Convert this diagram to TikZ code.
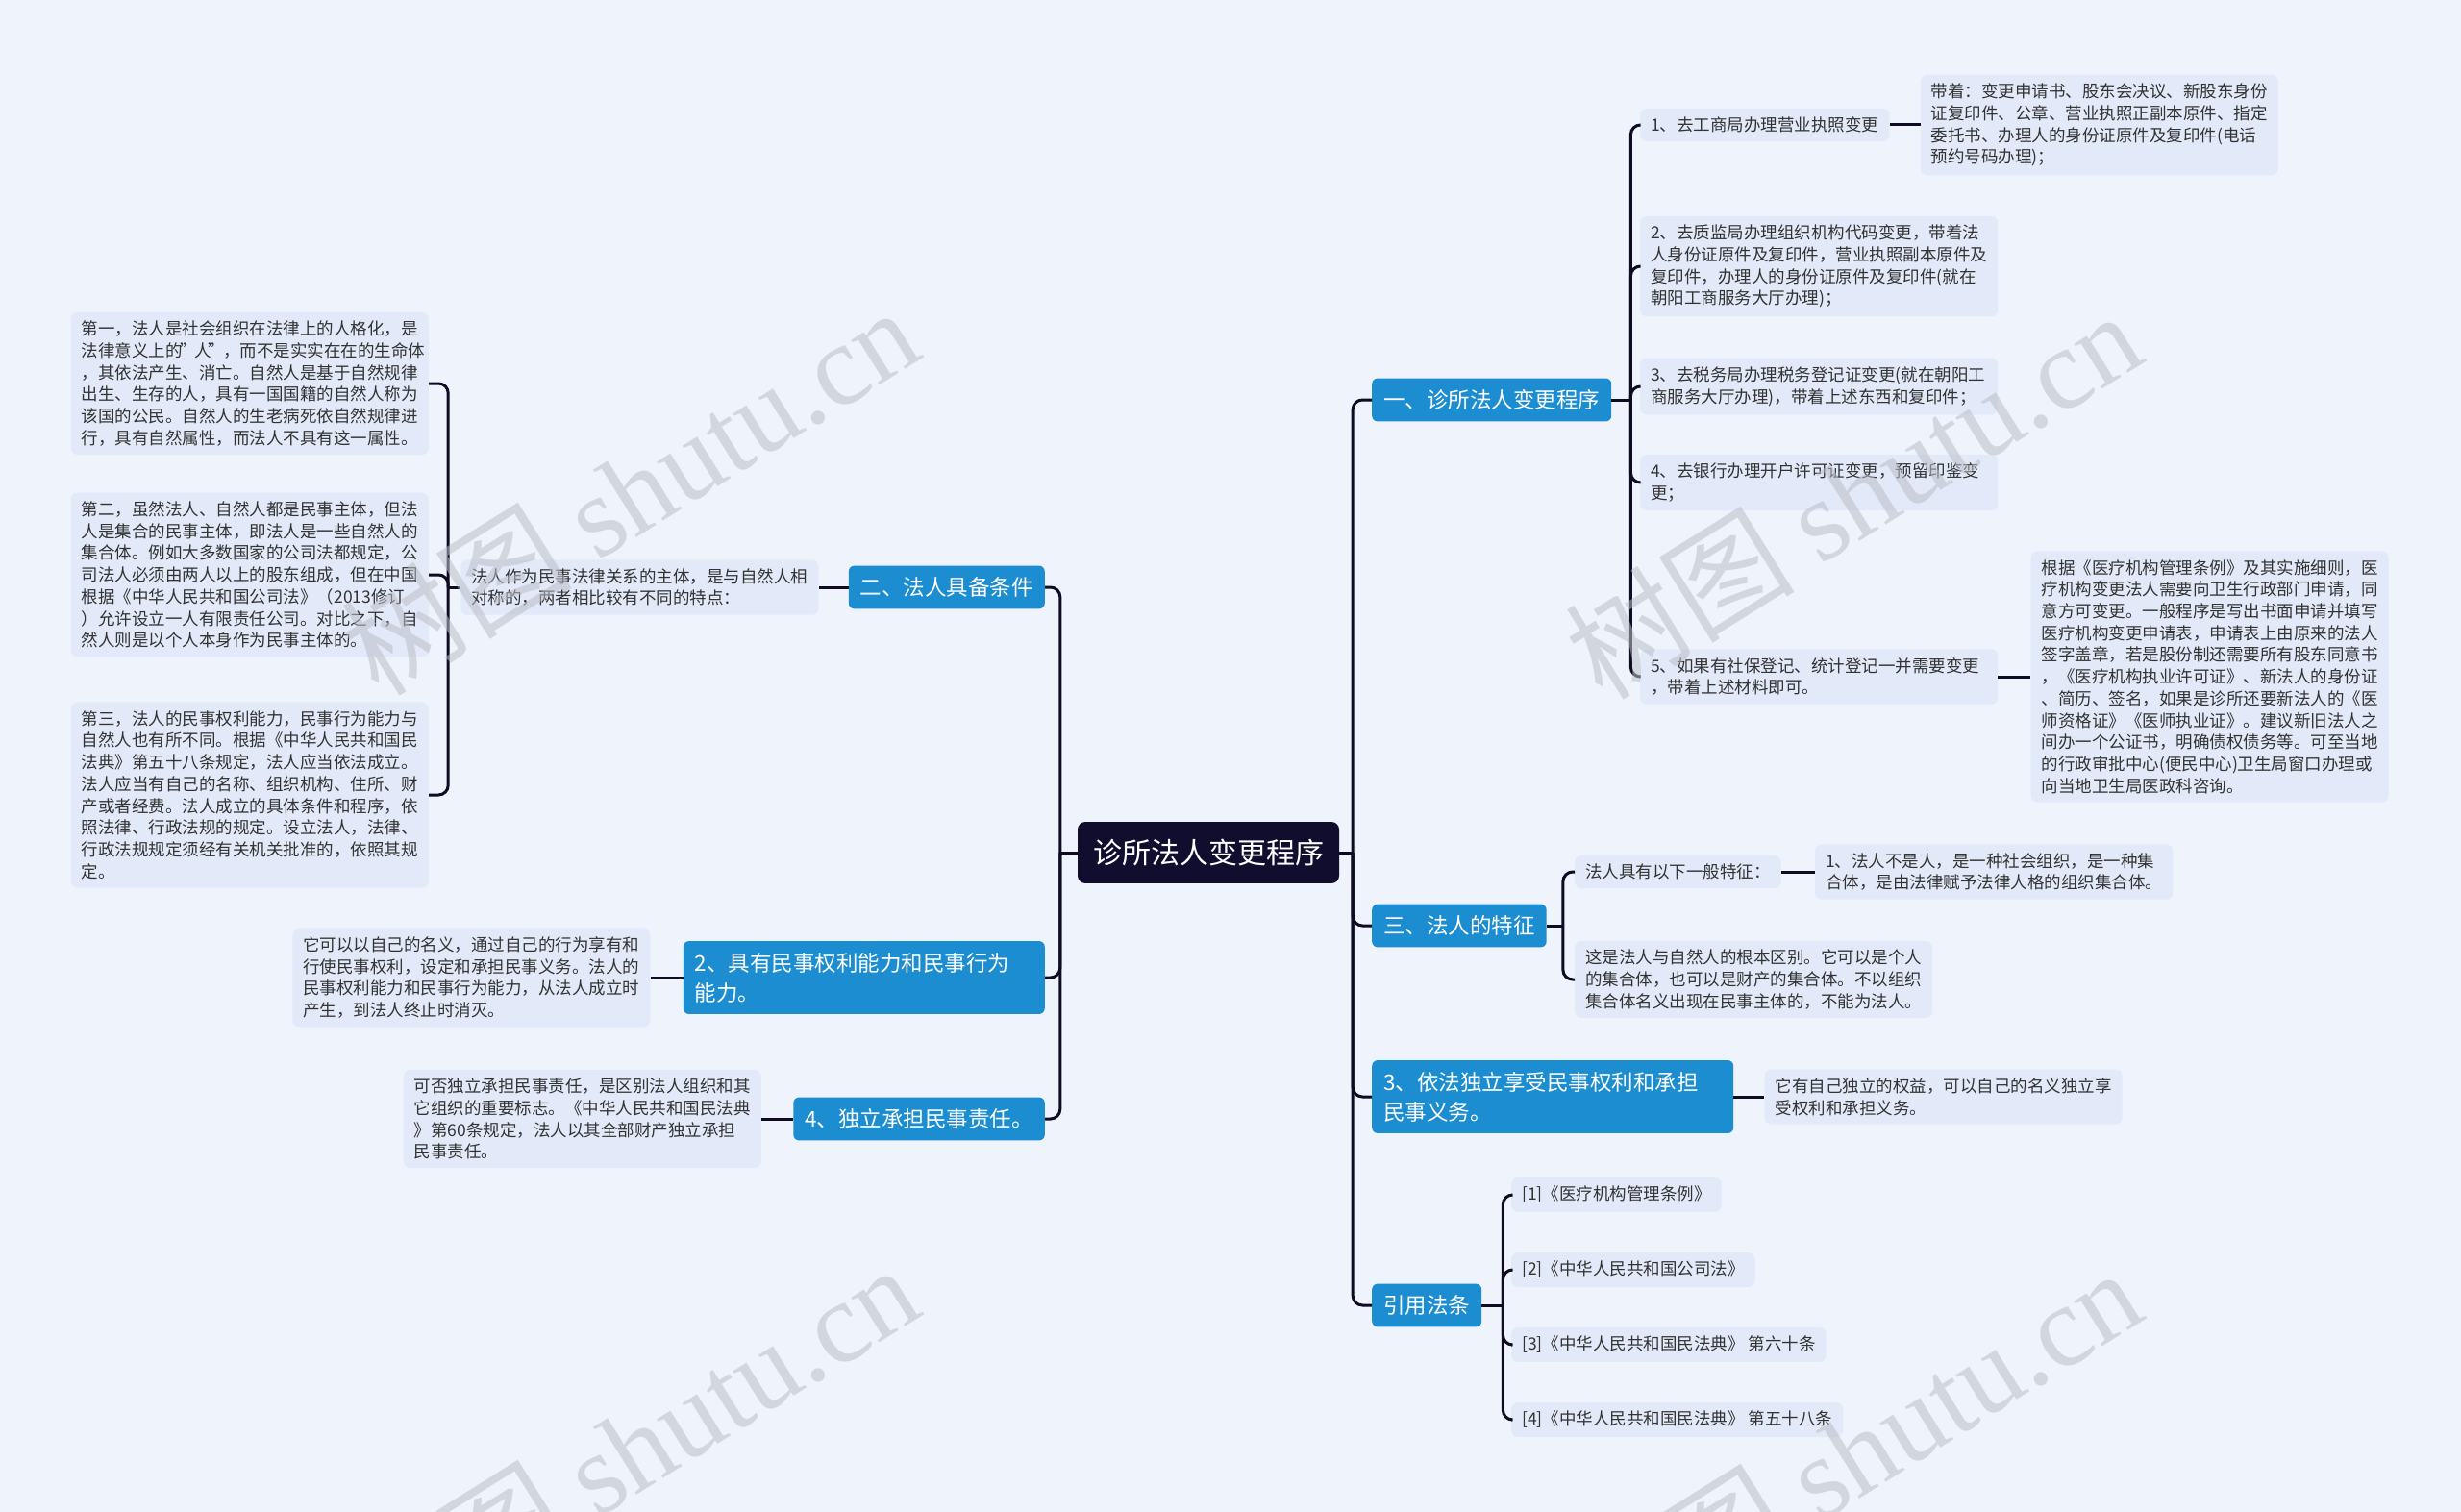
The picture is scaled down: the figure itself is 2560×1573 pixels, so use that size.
\documentclass[tikz,border=0pt]{standalone}
\usepackage{fontspec}
\setmainfont{Noto Sans CJK SC}
\newfontfamily\wmserif{Liberation Serif}
\usepackage{xcolor}
\usepackage{tikz}
\usetikzlibrary{positioning}

\definecolor{pagebg}{HTML}{EEF3FC}
\definecolor{notefill}{HTML}{E2E9F8}
\definecolor{notetext}{HTML}{333333}
\definecolor{branchblue}{HTML}{1C8DD0}
\definecolor{rootnavy}{HTML}{110D2F}
\definecolor{linkdark}{HTML}{0E0B22}
\definecolor{wmgray}{HTML}{BCBFC8}

\begin{document}
\begin{tikzpicture}[
    x=1pt, y=-1pt,
    rootbox/.style={fill=rootnavy, text=white, rounded corners=8pt,
                    inner xsep=16pt, inner ysep=18pt,
                    font=\fontsize{30}{36}\selectfont},
    branch/.style={fill=branchblue, text=white, rounded corners=6pt,
                   inner xsep=12pt, inner ysep=12pt, align=left,
                   font=\fontsize{22.5}{31}\selectfont},
    tag/.style={fill=notefill, text=notetext, rounded corners=7pt,
                inner xsep=11pt, inner ysep=9pt, align=left,
                font=\fontsize{17.5}{22.7}\selectfont},
    note/.style={tag, text width=350pt},
    link/.style={linkdark, line width=3pt, rounded corners=10pt},
    watermark/.style={text=wmgray, opacity=0.55, rotate=32,
                      font=\fontsize{120}{125}\selectfont},
  ]

  \useasboundingbox (0,0) rectangle (2560,1573);
  \fill[pagebg] (0,0) rectangle (2560,1573);

  \node[rootbox] (root) at (1257,887) {诊所法人变更程序};

  % right side
  \node[branch, anchor=west] (b1) at (1427,416) {一、诊所法人变更程序};
  \node[branch, anchor=west] (b3) at (1427,963) {三、法人的特征};
  \node[branch, anchor=west, text width=352pt] (b3b) at (1427,1141)
      {3、依法独立享受民事权利和承担\\民事义务。};
  \node[branch, anchor=west] (law) at (1427,1358) {引用法条};

  % left side
  \node[branch, anchor=east] (b2) at (1087,611) {二、法人具备条件};
  \node[branch, anchor=east, text width=352pt] (b2b) at (1087,1017)
      {2、具有民事权利能力和民事行为\\能力。};
  \node[branch, anchor=east] (b4) at (1087,1164) {4、独立承担民事责任。};

  % steps under 一
  \node[tag, anchor=west] (s1) at (1706,130) {1、去工商局办理营业执照变更};
  \node[note, right=32pt of s1] (n1)
      {带着：变更申请书、股东会决议、新股东身份\\
       证复印件、公章、营业执照正副本原件、指定\\
       委托书、办理人的身份证原件及复印件(电话\\
       预约号码办理)；};
  \node[note, anchor=west] (s2) at (1706,277)
      {2、去质监局办理组织机构代码变更，带着法\\
       人身份证原件及复印件，营业执照副本原件及\\
       复印件，办理人的身份证原件及复印件(就在\\
       朝阳工商服务大厅办理)；};
  \node[note, anchor=west] (s3) at (1706,402)
      {3、去税务局办理税务登记证变更(就在朝阳工\\
       商服务大厅办理)，带着上述东西和复印件；};
  \node[note, anchor=west] (s4) at (1706,502)
      {4、去银行办理开户许可证变更，预留印鉴变\\
       更；};
  \node[note, anchor=west] (s5) at (1706,704)
      {5、如果有社保登记、统计登记一并需要变更\\
       ，带着上述材料即可。};
  \node[note, right=34pt of s5] (n5)
      {根据《医疗机构管理条例》及其实施细则，医\\
       疗机构变更法人需要向卫生行政部门申请，同\\
       意方可变更。一般程序是写出书面申请并填写\\
       医疗机构变更申请表，申请表上由原来的法人\\
       签字盖章，若是股份制还需要所有股东同意书\\
       ，《医疗机构执业许可证》、新法人的身份证\\
       、简历、签名，如果是诊所还要新法人的《医\\
       师资格证》《医师执业证》。建议新旧法人之\\
       间办一个公证书，明确债权债务等。可至当地\\
       的行政审批中心(便民中心)卫生局窗口办理或\\
       向当地卫生局医政科咨询。};

  % features under 三
  \node[tag, anchor=west] (t1) at (1638,907) {法人具有以下一般特征：};
  \node[note, right=35pt of t1] (t1n)
      {1、法人不是人，是一种社会组织，是一种集\\
       合体，是由法律赋予法律人格的组织集合体。};
  \node[note, anchor=west] (t2) at (1638,1019)
      {这是法人与自然人的根本区别。它可以是个人\\
       的集合体，也可以是财产的集合体。不以组织\\
       集合体名义出现在民事主体的，不能为法人。};
  \node[note, right=32pt of b3b] (b3bn)
      {它有自己独立的权益，可以自己的名义独立享\\
       受权利和承担义务。};

  % cited laws
  \node[tag, anchor=west] (r1) at (1572,1243) {[1]《医疗机构管理条例》};
  \node[tag, anchor=west] (r2) at (1572,1321) {[2]《中华人民共和国公司法》};
  \node[tag, anchor=west] (r3) at (1572,1399) {[3]《中华人民共和国民法典》 第六十条};
  \node[tag, anchor=west] (r4) at (1572,1477) {[4]《中华人民共和国民法典》 第五十八条};

  % notes under 二
  \node[note, left=31pt of b2] (m0)
      {法人作为民事法律关系的主体，是与自然人相\\
       对称的，两者相比较有不同的特点：};
  \node[note, anchor=east] (p1) at (446,399)
      {第一，法人是社会组织在法律上的人格化，是\\
       法律意义上的\kern-2pt"\kern-3pt 人\kern-3pt"\kern-2pt，而不是实实在在的生命体\\
       ，其依法产生、消亡。自然人是基于自然规律\\
       出生、生存的人，具有一国国籍的自然人称为\\
       该国的公民。自然人的生老病死依自然规律进\\
       行，具有自然属性，而法人不具有这一属性。};
  \node[note, anchor=east] (p2) at (446,598)
      {第二，虽然法人、自然人都是民事主体，但法\\
       人是集合的民事主体，即法人是一些自然人的\\
       集合体。例如大多数国家的公司法都规定，公\\
       司法人必须由两人以上的股东组成，但在中国\\
       根据《中华人民共和国公司法》（2013修订\\
       ）允许设立一人有限责任公司。对比之下，自\\
       然人则是以个人本身作为民事主体的。};
  \node[note, anchor=east] (p3) at (446,827)
      {第三，法人的民事权利能力，民事行为能力与\\
       自然人也有所不同。根据《中华人民共和国民\\
       法典》第五十八条规定，法人应当依法成立。\\
       法人应当有自己的名称、组织机构、住所、财\\
       产或者经费。法人成立的具体条件和程序，依\\
       照法律、行政法规的规定。设立法人，法律、\\
       行政法规规定须经有关机关批准的，依照其规\\
       定。};
  \node[note, left=34pt of b2b] (b2bn)
      {它可以以自己的名义，通过自己的行为享有和\\
       行使民事权利，设定和承担民事义务。法人的\\
       民事权利能力和民事行为能力，从法人成立时\\
       产生，到法人终止时消灭。};
  \node[note, left=33pt of b4] (b4n)
      {可否独立承担民事责任，是区别法人组织和其\\
       它组织的重要标志。《中华人民共和国民法典\\
       》第60条规定，法人以其全部财产独立承担\\
       民事责任。};

  % root → branches
  \coordinate (rj) at ([xshift=14pt]root.east);
  \coordinate (lj) at ([xshift=-18pt]root.west);
  \draw[link] (root.east) -- (rj);
  \draw[link] (root.west) -- (lj);
  \foreach \b in {b1,b3,b3b,law}
    \draw[link] (rj) |- (\b.west);
  \foreach \b in {b2,b2b,b4}
    \draw[link] (lj) |- (\b.east);

  % 一 → steps
  \coordinate (j1) at ([xshift=20pt]b1.east);
  \draw[link] (b1.east) -- (j1);
  \foreach \s in {s1,s2,s3,s4,s5}
    \draw[link] (j1) |- (\s.west);
  \draw[link] (s1.east) -- (n1.west);
  \draw[link] (s5.east) -- (n5.west);

  % 三 → features
  \coordinate (j3) at ([xshift=17pt]b3.east);
  \draw[link] (b3.east) -- (j3);
  \foreach \s in {t1,t2}
    \draw[link] (j3) |- (\s.west);
  \draw[link] (t1.east) -- (t1n.west);
  \draw[link] (b3b.east) -- (b3bn.west);

  % 引用法条 → laws
  \coordinate (jl) at ([xshift=22pt]law.east);
  \draw[link] (law.east) -- (jl);
  \foreach \s in {r1,r2,r3,r4}
    \draw[link] (jl) |- (\s.west);

  % 二 → notes
  \draw[link] (b2.west) -- (m0.east);
  \coordinate (j2) at ([xshift=-13pt]m0.west);
  \draw[link] (m0.west) -- (j2);
  \foreach \s in {p1,p2,p3}
    \draw[link] (j2) |- (\s.east);
  \draw[link] (b2b.west) -- (b2bn.east);
  \draw[link] (b4.west) -- (b4n.east);

  % watermark
  \begin{scope}
    \clip (0,0) rectangle (2560,1573);
    \foreach \wx/\wy in {655/510, 1927/514, 655/1506, 1927/1510}
      \node[watermark] (wm\wx) at (\wx,\wy) {树图 {\wmserif shutu.cn}};
  \end{scope}

\end{tikzpicture}
\end{document}
